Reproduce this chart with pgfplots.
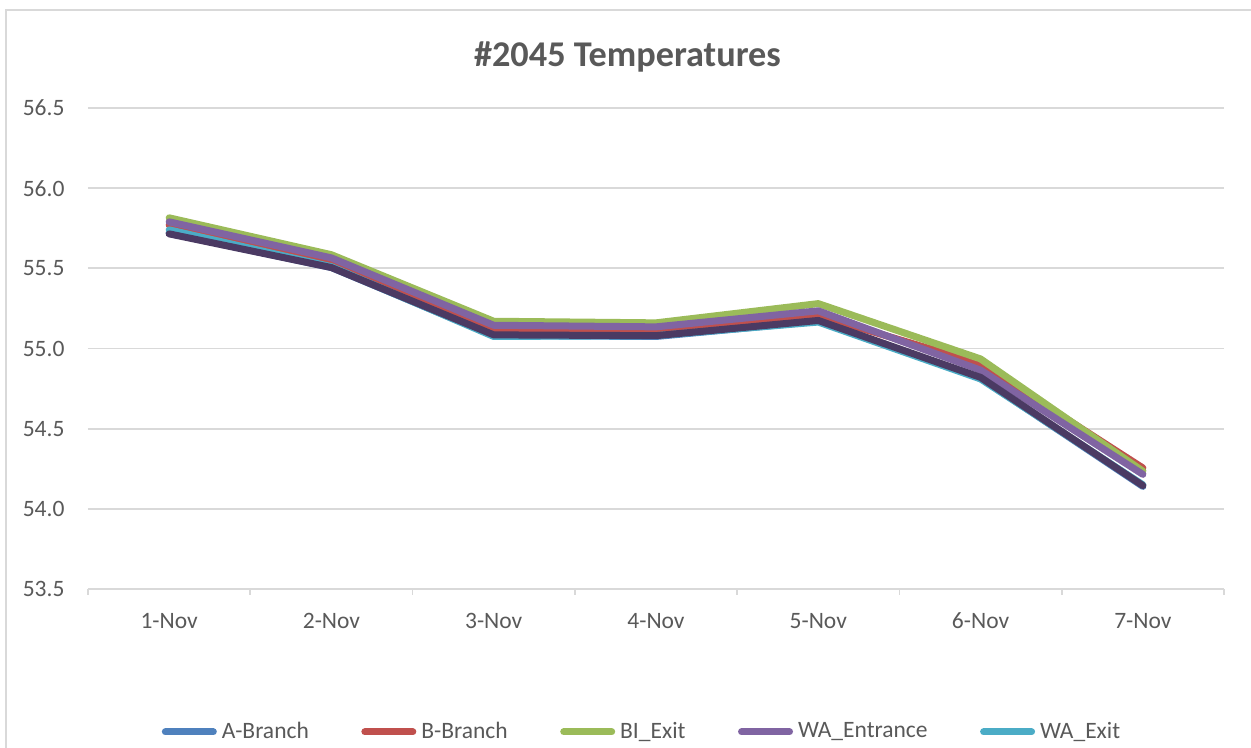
\documentclass[border=0pt]{standalone}
\usepackage{pgfplots}
\pgfplotsset{compat=1.18}
\usepackage{fontspec}
\setmainfont{Carlito}
\definecolor{txt}{HTML}{595959}
\definecolor{gridc}{HTML}{D9D9D9}
\definecolor{sA}{HTML}{4F81BD}
\definecolor{sB}{HTML}{C0504D}
\definecolor{sC}{HTML}{9BBB59}
\definecolor{sD}{HTML}{8064A2}
\definecolor{sE}{HTML}{4BACC6}
\definecolor{sF}{HTML}{4B3A63}
\begin{document}
\begin{tikzpicture}
\useasboundingbox (0,0) rectangle (500.4pt,-299.2pt);
\draw[gridc, line width=0.8pt] (2.4pt,-330pt) -- (2.4pt,-4pt) -- (530pt,-4pt);
\begin{axis}[
  at={(35.2pt,-235.6pt)}, anchor=south west,
  scale only axis, width=454.4pt, height=192.4pt,
  xmin=-0.5, xmax=6.5, ymin=53.5, ymax=56.5,
  axis x line*=bottom, axis y line*=left,
  x axis line style={gridc, line width=0.7pt, -},
  y axis line style={draw=none},
  ytick={53.5,54,54.5,55,55.5,56,56.5},
  ymajorgrids, grid style={gridc, line width=0.7pt},
  major tick length=0pt,
  ytick style={draw=none},
  /pgf/number format/assume math mode=true,
  yticklabel={\pgfmathprintnumber[fixed,fixed zerofill,precision=1]{\tick}},
  yticklabel style={anchor=east, inner sep=0pt, xshift=-9.2pt, font=\fontsize{9.4}{11}\selectfont, text=txt},
  xtick={0,...,6},
  xticklabels={1-Nov,2-Nov,3-Nov,4-Nov,5-Nov,6-Nov,7-Nov},
  xticklabel style={anchor=base, inner sep=0pt, yshift=-15.6pt, font=\fontsize{9.4}{11}\selectfont, text=txt},
  major x tick style={draw=none},
  minor xtick={-0.5,0.5,...,6.5},
  xtick align=outside,
  minor tick length=2.2pt,
  minor x tick style={gridc, line width=0.7pt},
  title={\#2045 Temperatures},
  title style={at={(rel axis cs:0.4749,1.0545)}, anchor=base, inner sep=0pt, font=\fontsize{14.5}{17}\selectfont\bfseries, text=txt},
  legend columns=5,
  legend style={at={(0.489,-0.2971)}, anchor=center, draw=none, fill=none, font=\fontsize{9.4}{11}\selectfont, text=txt,
    /tikz/every even column/.append style={column sep=19pt}},
  legend cell align=left,
  legend image code/.code={\draw[#1, line width=2.8pt, line cap=round] (1.4pt,0pt) -- (20.6pt,0pt);},
  every axis plot/.append style={line width=2.8pt, line join=round, line cap=round, mark=none},
  clip=false,
]
\addplot[sA] coordinates {(0,55.72) (1,55.505) (2,55.08) (3,55.075) (4,55.17) (5,54.815) (6,54.14)};
\addlegendentry{A-Branch}
\addplot[sB] coordinates {(0,55.77) (1,55.545) (2,55.115) (3,55.11) (4,55.205) (5,54.905) (6,54.255)};
\addlegendentry{B-Branch}
\addplot[sC] coordinates {(0,55.815) (1,55.585) (2,55.17) (3,55.16) (4,55.28) (5,54.935) (6,54.235)};
\addlegendentry{BI\_Exit}
\addplot[sD] coordinates {(0,55.79) (1,55.565) (2,55.145) (3,55.135) (4,55.235) (5,54.865) (6,54.215)};
\addlegendentry{WA\_Entrance}
\addplot[sE] coordinates {(0,55.74) (1,55.51) (2,55.075) (3,55.08) (4,55.165) (5,54.81) (6,54.15)};
\addlegendentry{WA\_Exit}
\addplot[sF, forget plot] coordinates {(0,55.715) (1,55.505) (2,55.085) (3,55.08) (4,55.175) (5,54.82) (6,54.145)};
\end{axis}
\end{tikzpicture}
\end{document}
